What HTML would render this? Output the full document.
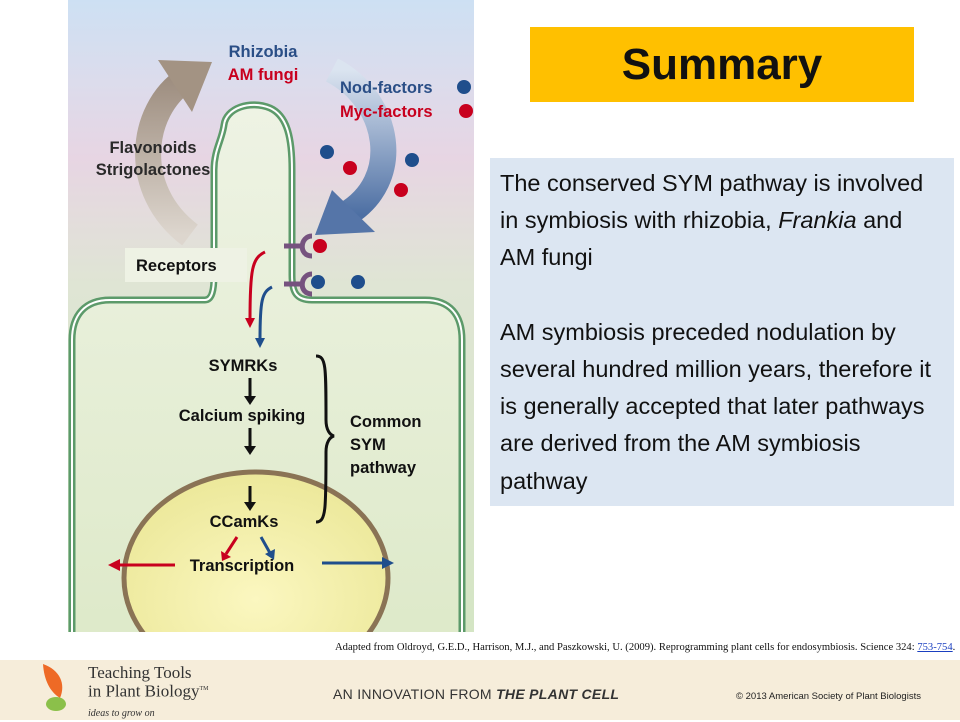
<!DOCTYPE html>
<html><head><meta charset="utf-8">
<style>
body{margin:0;width:960px;height:720px;overflow:hidden;background:#fff;font-family:"Liberation Sans",Arial,sans-serif;position:relative}
.abs{position:absolute}
#txt p{margin:0;font-size:23.5px;line-height:37.2px;color:#111;white-space:nowrap}
</style></head><body>
<svg class="abs" style="left:0;top:0" width="960" height="720">
<defs>
<linearGradient id="bg" x1="0" y1="0" x2="0" y2="1">
<stop offset="0" stop-color="#cde0f3"/><stop offset="0.13" stop-color="#dcdcec"/><stop offset="0.25" stop-color="#e7d5e3"/><stop offset="0.45" stop-color="#dfe5d4"/><stop offset="1" stop-color="#d4e5c4"/>
</linearGradient>
<linearGradient id="cell" x1="0" y1="0" x2="0" y2="1"><stop offset="0" stop-color="#eef3e4"/><stop offset="1" stop-color="#dde9c8"/></linearGradient>
<radialGradient id="nuc" cx="0.5" cy="0.6" r="0.6"><stop offset="0" stop-color="#fbf7c0"/><stop offset="1" stop-color="#ece89a"/></radialGradient>
<linearGradient id="ga" x1="0" y1="1" x2="0" y2="0"><stop offset="0" stop-color="#ddd6ce"/><stop offset="1" stop-color="#9e8e80"/></linearGradient>
<linearGradient id="ba" x1="0" y1="0" x2="0" y2="1"><stop offset="0" stop-color="#dbe4f0"/><stop offset="1" stop-color="#4d6fa3"/></linearGradient>
<clipPath id="pc"><rect x="68" y="0" width="406" height="632"/></clipPath>
</defs>
<g clip-path="url(#pc)">
<rect x="68" y="0" width="406" height="632" fill="url(#bg)"/>
<path d="M190,235 C130,190 140,110 185,80" stroke="url(#ga)" stroke-width="26" fill="none"/>
<polygon points="158,60 212,62 192,112" fill="#a39383"/>
<path d="M332,70 C390,100 405,180 345,215" stroke="url(#ba)" stroke-width="26" fill="none"/>
<polygon points="332,190 375,232 315,235" fill="#5575a8"/>
<path d="M110,300 L205,300 C212,300 214,290 214,275 L214,170 C214,150 222,140 224,125 C226,108 250,100 270,108 C288,116 292,140 292,170 L292,275 C292,292 296,300 312,300 L425,300 C450,300 462,315 462,340 L462,660 L72,660 L72,340 C72,315 85,300 110,300 Z" fill="url(#cell)" stroke="#5c9a6a" stroke-width="7"/>
<path d="M110,300 L205,300 C212,300 214,290 214,275 L214,170 C214,150 222,140 224,125 C226,108 250,100 270,108 C288,116 292,140 292,170 L292,275 C292,292 296,300 312,300 L425,300 C450,300 462,315 462,340 L462,660 L72,660 L72,340 C72,315 85,300 110,300 Z" fill="none" stroke="#fff" stroke-width="2"/>
<ellipse cx="256" cy="578" rx="132" ry="106" fill="url(#nuc)" stroke="#8a7355" stroke-width="5"/>
</g>
<g>
<circle cx="464" cy="87" r="7" fill="#1f4e8c"/><circle cx="466" cy="111" r="7" fill="#c8001e"/>
<circle cx="327" cy="152" r="7" fill="#1f4e8c"/><circle cx="350" cy="168" r="7" fill="#c8001e"/>
<circle cx="412" cy="160" r="7" fill="#1f4e8c"/><circle cx="401" cy="190" r="7" fill="#c8001e"/>
<circle cx="320" cy="246" r="7" fill="#c8001e"/><circle cx="318" cy="282" r="7" fill="#1f4e8c"/><circle cx="358" cy="282" r="7" fill="#1f4e8c"/>
</g>
<g stroke="#76527f" stroke-width="5" fill="none">
<path d="M284,246 L300,246 M312,236 C300,236 298,256 312,256"/>
<path d="M284,284 L300,284 M312,274 C300,274 298,294 312,294"/>
</g>
<rect x="125" y="248" width="122" height="34" fill="#eef2e4"/>
<path d="M265,252 C252,258 250,270 250,320" stroke="#c8001e" stroke-width="3" fill="none"/><polygon points="245,318 255,318 250,328" fill="#c8001e"/>
<path d="M272,287 C262,292 260,300 260,340" stroke="#1f4e8c" stroke-width="3" fill="none"/><polygon points="255,338 265,338 260,348" fill="#1f4e8c"/>
<g stroke="#111" stroke-width="3"><line x1="250" y1="378" x2="250" y2="398"/><line x1="250" y1="428" x2="250" y2="448"/><line x1="250" y1="486" x2="250" y2="504"/></g>
<g fill="#111"><polygon points="244,396 256,396 250,405"/><polygon points="244,446 256,446 250,455"/><polygon points="244,502 256,502 250,511"/></g>
<path d="M316,356 C326,356 326,366 326,420 C326,430 330,435 334,436 C330,437 326,442 326,452 C326,510 326,522 316,522" stroke="#111" stroke-width="3" fill="none"/>
<line x1="237" y1="537" x2="226" y2="554" stroke="#c8001e" stroke-width="3"/><polygon points="221,551 231,557 222,561" fill="#c8001e"/>
<line x1="261" y1="537" x2="270" y2="553" stroke="#1f4e8c" stroke-width="3"/><polygon points="265,554 275,549 274,560" fill="#1f4e8c"/>
<line x1="175" y1="565" x2="118" y2="565" stroke="#c8001e" stroke-width="3"/><polygon points="120,559 120,571 108,565" fill="#c8001e"/>
<line x1="322" y1="563" x2="384" y2="563" stroke="#1f4e8c" stroke-width="3"/><polygon points="382,557 382,569 394,563" fill="#1f4e8c"/>
<g font-family="Liberation Sans,Arial,sans-serif" font-weight="bold" font-size="16.5">
<text x="263" y="57" text-anchor="middle" fill="#2a4e86">Rhizobia</text>
<text x="263" y="80" text-anchor="middle" fill="#c8001e">AM fungi</text>
<text x="340" y="93" fill="#2a4e86">Nod-factors</text>
<text x="340" y="117" fill="#c8001e">Myc-factors</text>
<text x="153" y="153" text-anchor="middle" fill="#2a2a2a">Flavonoids</text>
<text x="153" y="175" text-anchor="middle" fill="#2a2a2a">Strigolactones</text>
<text x="136" y="271" fill="#111">Receptors</text>
<text x="243" y="371" text-anchor="middle" fill="#111">SYMRKs</text>
<text x="242" y="421" text-anchor="middle" fill="#111">Calcium spiking</text>
<text x="244" y="527" text-anchor="middle" fill="#111">CCamKs</text>
<text x="242" y="571" text-anchor="middle" fill="#111">Transcription</text>
<text x="350" y="427" fill="#111">Common</text>
<text x="350" y="450" fill="#111">SYM</text>
<text x="350" y="473" fill="#111">pathway</text>
</g>
</svg>
<div class="abs" style="left:530px;top:27px;width:384px;height:75px;background:#ffc000;font-weight:bold;font-size:44px;line-height:75px;text-align:center;color:#111">Summary</div>
<div id="txt" class="abs" style="left:490px;top:158px;width:454px;height:327px;background:#dce6f2;padding:7px 0 14px 10px">
<p>The conserved SYM pathway is involved<br>in symbiosis with rhizobia, <i>Frankia</i> and<br>AM fungi</p>
<p>&nbsp;</p>
<p>AM symbiosis preceded nodulation by<br>several hundred million years, therefore it<br>is generally accepted that later pathways<br>are derived from the AM symbiosis<br>pathway</p>
</div>
<div class="abs" style="left:335px;top:642px;font-family:'Liberation Serif',serif;font-size:10px;color:#111;white-space:nowrap;transform-origin:0 0;transform:scaleX(1.06)">Adapted from Oldroyd, G.E.D., Harrison, M.J., and Paszkowski, U. (2009). Reprogramming plant cells for endosymbiosis. Science 324: <span style="color:#1a3fc0;text-decoration:underline">753-754</span>.</div>
<div class="abs" style="left:0;top:660px;width:960px;height:60px;background:#f6edda"></div>
<svg class="abs" style="left:40px;top:662px" width="30" height="56"><path d="M3,2 C20,8 26,22 20,36 C10,30 4,18 3,2Z" fill="#ee6a26"/><ellipse cx="16" cy="42" rx="10" ry="7" fill="#8bc04a"/></svg>
<div class="abs" style="left:88px;top:664px;font-family:'Liberation Serif',serif;font-size:17px;line-height:17px;color:#333">Teaching Tools<br>in Plant Biology<sup style="font-size:6px">TM</sup><div style="font-size:10px;font-style:italic;margin-top:5px">ideas to grow on</div></div>
<div class="abs" style="left:333px;top:686px;font-size:14px;color:#333;letter-spacing:0.3px">AN INNOVATION FROM <b><i>THE PLANT CELL</i></b></div>
<div class="abs" style="left:736px;top:691px;font-size:9.5px;color:#222">© 2013 American Society of Plant Biologists</div>
</body></html>
